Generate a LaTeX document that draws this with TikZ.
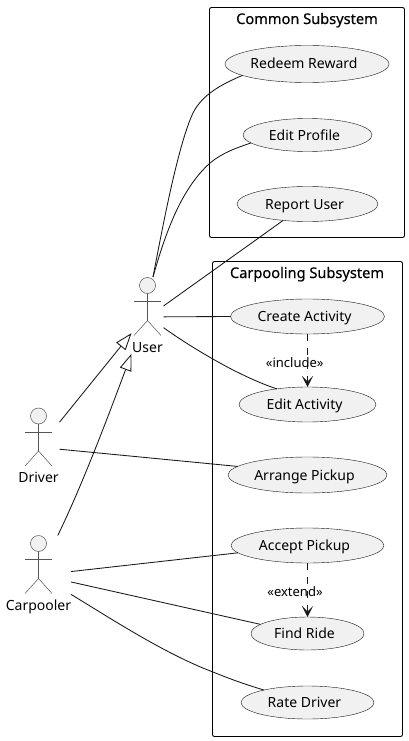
\documentclass[tikz,border=0pt]{standalone}
\usepackage{fontspec}
\setmainfont{Noto Sans}
\usetikzlibrary{shapes.geometric,arrows.meta}
\definecolor{ucfill}{HTML}{F1F1F1}
\definecolor{ucline}{HTML}{181818}
\definecolor{actline}{HTML}{555555}
\tikzset{
  usecase/.style={ellipse,draw=ucline,line width=0.4pt,fill=ucfill,inner sep=0pt,outer sep=0pt,font=\fontsize{14}{16}\selectfont,text height=11pt,text depth=1pt},
  subsystem/.style={draw=black,line width=0.9pt,rounded corners=2pt},
  systitle/.style={font=\fontsize{14.6}{16}\selectfont\addfontfeatures{FakeBold=0.4},inner sep=0pt,text height=11pt,text depth=1pt},
  actorbox/.style={draw=none,inner sep=0pt,outer sep=0pt},
  actortext/.style={font=\fontsize{14}{16}\selectfont,inner sep=0pt,text height=11pt,text depth=1pt},
  steretext/.style={font=\fontsize{13}{15}\selectfont,inner sep=0pt},
  assoc/.style={draw=ucline,line width=0.85pt},
  inherit/.style={draw=ucline,line width=0.85pt,-{Triangle[open,length=17pt,width=12pt,fill=white]}},
  depend/.style={draw=ucline,line width=0.85pt,dash pattern=on 7pt off 7pt,-{Stealth[length=11pt,width=11pt,inset=5.5pt]}},
  limb/.style={draw=actline,line width=0.5pt},
  head/.style={draw=actline,line width=0.5pt,fill=ucfill}
}
\newcommand{\uctext}[1]{#1\kern6pt}
\newcommand{\stickfig}[2]{%
  \draw[head] (#1,#2) circle (8);
  \draw[limb] (#1-13.5,#2+15.75) -- (#1+13.5,#2+15.75);
  \draw[limb] (#1,#2+8) -- (#1,#2+35);
  \draw[limb] (#1-13.5,#2+50) -- (#1,#2+35) -- (#1+13.5,#2+50);
}
\begin{document}
\begin{tikzpicture}[x=1pt,y=-1pt]
\useasboundingbox (0,0) rectangle (409,741);
\fill[white] (0,0) rectangle (409,741);
% subsystems
\draw[subsystem] (209.5,7.5) rectangle (404.5,237.5);
\draw[subsystem] (212.5,261.5) rectangle (402.5,736.5);
\node[systitle] (commontitle) at (307,19) {Common Subsystem};
\node[systitle] (carptitle) at (307,273) {Carpooling Subsystem};
% use cases
\node[usecase,minimum width=164pt,minimum height=37pt] (redeem) at (307,64) {\uctext{Redeem Reward}};
\node[usecase,minimum width=129pt,minimum height=33pt] (profile) at (307.5,135) {\uctext{Edit Profile}};
\node[usecase,minimum width=141pt,minimum height=35pt] (report) at (307.5,204) {\uctext{Report User}};
\node[usecase,minimum width=154pt,minimum height=35pt] (create) at (307.5,316.5) {\uctext{Create Activity}};
\node[usecase,minimum width=137pt,minimum height=35pt] (editact) at (307.5,404.5) {\uctext{Edit Activity}};
\node[usecase,minimum width=159pt,minimum height=36pt] (arrange) at (307.5,475) {\uctext{Arrange Pickup}};
\node[usecase,minimum width=153pt,minimum height=35pt] (accept) at (307.5,545.5) {\uctext{Accept Pickup}};
\node[usecase,minimum width=113pt,minimum height=33pt] (find) at (307.5,633.5) {\uctext{Find Ride}};
\node[usecase,minimum width=133pt,minimum height=33pt] (rate) at (307.5,702.5) {\uctext{Rate Driver}};
% actors
\node[actorbox,minimum width=32pt,minimum height=78pt] (user) at (147.5,316) {};
\node[actorbox,minimum width=42pt,minimum height=75pt] (driver) at (38.5,445.5) {};
\node[actorbox,minimum width=65pt,minimum height=75.5pt] (carpooler) at (38.5,573.25) {};
\stickfig{147.5}{285.5}
\stickfig{38.5}{416}
\stickfig{38.5}{543.5}
\node[actortext] (userlabel) at (147.5,347) {User};
\node[actortext] (driverlabel) at (38.5,477) {Driver};
\node[actortext] (carplabel) at (38.5,605) {Carpooler};
% associations
\draw[assoc] (user.82) .. controls (163,225) and (178,145) .. (193,113) .. controls (203,93) and (225,83) .. (redeem.190.8);
\draw[assoc] (user.82) .. controls (165,235) and (180,190) .. (210,163) .. controls (222,153) and (236,148) .. (profile.188);
\draw[assoc] (user.32) -- (report.214);
\draw[assoc] (user.-3.6) -- (create.180);
\draw[assoc] (user.-36.9) .. controls (185,343) and (210,358) .. (233,370) .. controls (247,377) and (262,384) .. (editact.153.8);
\draw[assoc] (driver.-10.8) -- (arrange.173.7);
\draw[assoc] (carpooler.3.1) -- (accept.186);
\draw[assoc] (carpooler.-15) -- (find.169.4);
\draw[assoc] (carpooler.-33.8) .. controls (110,618) and (165,654) .. (213,672) .. controls (230,679) and (247,685) .. (rate.164.3);
% generalisations
\draw[inherit] (driver.48.8) -- (user.227.9);
\draw[inherit] (carpooler.63.3) .. controls (80,490) and (105,425) .. (user.247.3);
% stereotyped dependencies
\draw[depend] (create.south) -- (editact.north);
\draw[depend] (accept.south) -- (find.north);
\node[steretext] (inclabel) at (294.7,362.5) {«include»};
\node[steretext] (extlabel) at (295,591.5) {«extend»};
\end{tikzpicture}
\end{document}
